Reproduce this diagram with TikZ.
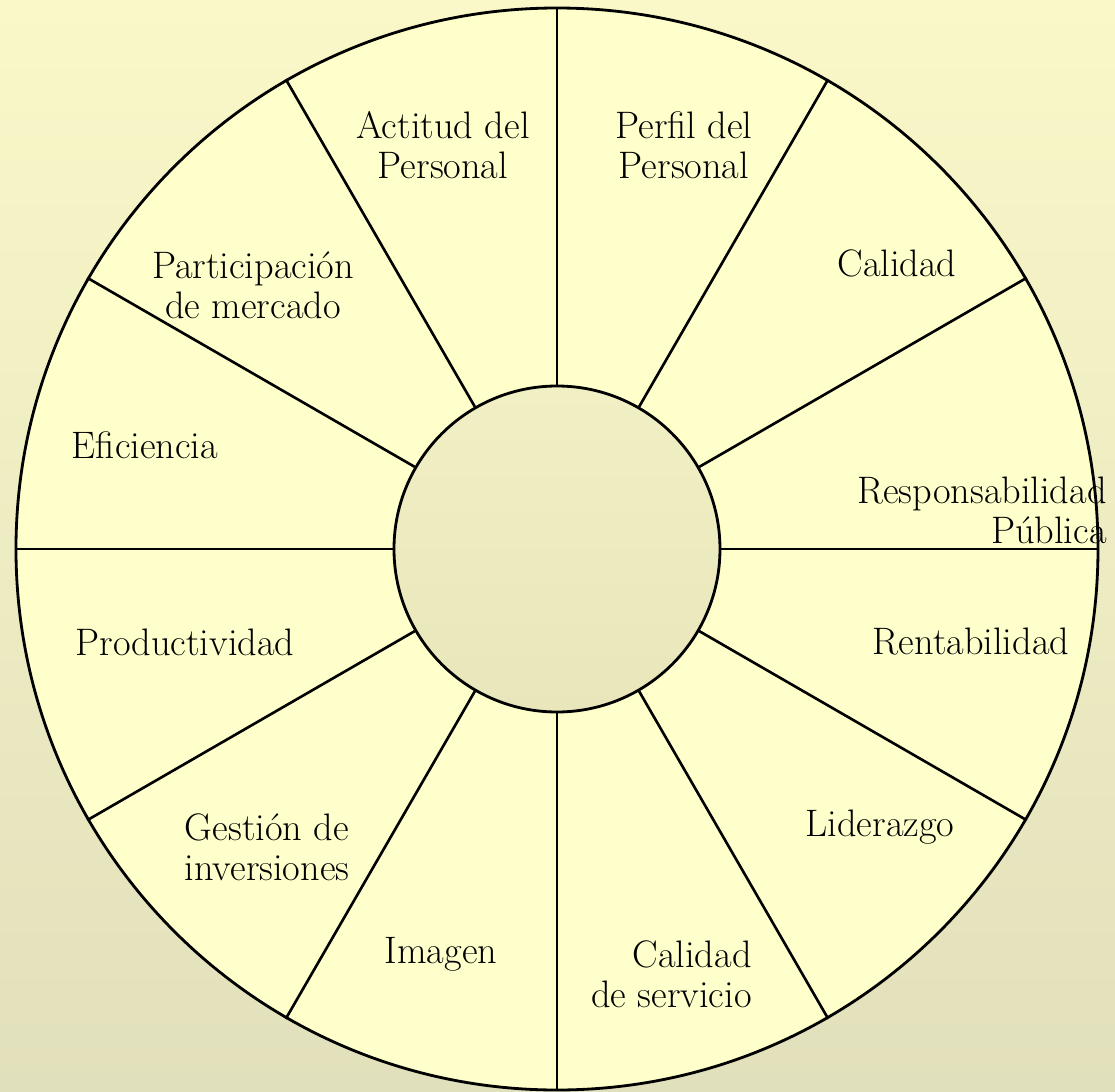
\documentclass[tikz,border=0pt]{standalone}
\usepackage{tikz}
\usetikzlibrary{positioning}

\definecolor{bgtop}{RGB}{250,248,200}
\definecolor{bgbot}{RGB}{225,224,188}
\definecolor{wheel}{RGB}{255,255,204}
\definecolor{hubtop}{RGB}{241,240,196}
\definecolor{hubbot}{RGB}{232,230,186}

\begin{document}
\begin{tikzpicture}[
        lbl/.style={align=center, font=\fontsize{21.8}{22.8}\selectfont, inner sep=0pt},
        spoke/.style={line width=1.5pt}
    ]
        % background and bounding box
        \shade[top color=bgtop, bottom color=bgbot] (-11.14,-10.86) rectangle (11.16,10.98);
        \useasboundingbox (-11.14,-10.86) rectangle (11.16,10.98);

        \node[circle, draw, line width=1.6pt, fill=wheel, minimum size=21.64cm, inner sep=0pt] (rim) at (0,0) {};
        \node[circle, draw, line width=1.6pt, top color=hubtop, bottom color=hubbot, minimum size=6.52cm, inner sep=0pt] (hub) at (0,0) {};
        \foreach \a in {0,30,...,330}
            \draw[spoke] (hub.\a)--(rim.\a);

        \node[lbl] (actitud) at (-2.28,8.08) {Actitud del\\Personal};
        \node[lbl] (perfil) at (2.54,8.08) {Perfil del\\Personal};
        \node[lbl] (calidad) at (6.8,5.72) {Calidad};
        \node[lbl] (mercado) at (-6.08,5.28) {Participación\\de mercado};
        \node[lbl] (eficiencia) at (-8.24,2.08) {Eficiencia};
        \node[lbl, anchor=east, align=right] (publica) at (11.0,0.78) {Responsabilidad\\Pública};
        \node[lbl] (productividad) at (-7.44,-1.86) {Productividad};
        \node[lbl] (rentabilidad) at (8.28,-1.86) {Rentabilidad};
        \node[lbl] (inversiones) at (-5.8,-5.96) {Gestión de\\inversiones};
        \node[lbl] (liderazgo) at (6.46,-5.56) {Liderazgo};
        \node[lbl] (imagen) at (-2.32,-8.1) {Imagen};
        \node[lbl, anchor=east, align=right] (servicio) at (3.9,-8.5) {Calidad\\de servicio};

    \end{tikzpicture}
\end{document}
